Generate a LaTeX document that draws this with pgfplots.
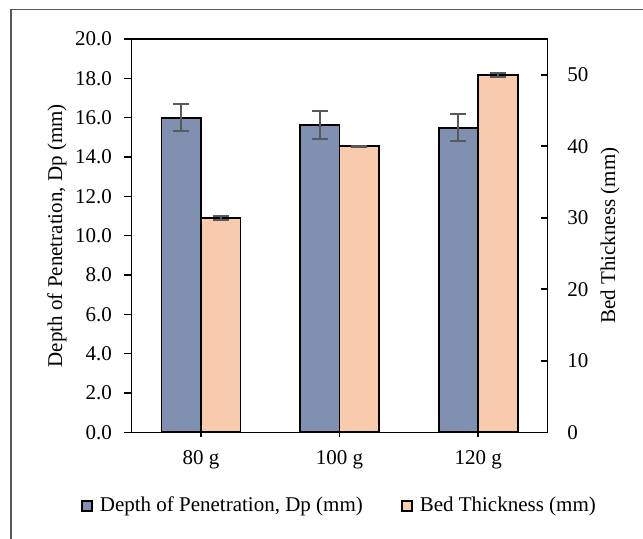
\documentclass[border=0pt]{standalone}
\usepackage{fontspec}
\setmainfont{Liberation Serif}
\usepackage{pgfplots}
\pgfplotsset{compat=1.18}
\definecolor{dpblue}{HTML}{8090B0}
\definecolor{bedorange}{HTML}{F8CBAD}
\definecolor{errgray}{HTML}{595959}
\begin{document}
\fontsize{10.5}{12.5}\selectfont
\begin{tikzpicture}
\useasboundingbox (0,0) rectangle (321.5pt,269pt);
\draw[black!65, line width=0.6pt] (5.5pt,-1pt) -- (5.5pt,264.25pt) -- (323pt,264.25pt);
\pgfplotsset{common/.style={
  scale only axis, width=207.9pt, height=196.65pt,
  at={(65.85pt,52.85pt)}, anchor=south west,
  xmin=-0.5, xmax=2.5, ymin=0,
  ybar, bar width=19.75pt,
  axis line style={line width=0.8pt, black},
  every tick/.style={black, line width=0.8pt},
  tick label style={font=\fontsize{10.5}{12.5}\selectfont},
  label style={font=\fontsize{10.5}{12.5}\selectfont},
  /pgf/number format/assume math mode=true,
  error bars/y dir=both, error bars/y explicit,
  error bars/error bar style={errgray, line width=1pt},
  error bars/error mark options={rotate=90, mark size=4pt, errgray, line width=1pt},
}}
\begin{axis}[common,
  ymax=20, ytick={0,2,...,20},
  xtick={0,1,2}, xticklabels={80 g,100 g,120 g},
  xtick pos=bottom, ytick pos=left,
  tick align=outside,
  ytick style={/pgfplots/major tick length=3.8pt},
  xtick style={/pgfplots/major tick length=2.4pt},
  yticklabel style={/pgf/number format/.cd, fixed, fixed zerofill, precision=1, /tikz/.cd, xshift=-2pt},
  xticklabel style={yshift=-1pt},
  ylabel={Depth of Penetration, Dp (mm)},
  ylabel style={at={(axis description cs:-0.1797,0.5)}, anchor=center, rotate=0},
]
\addplot[draw=black, fill=dpblue, line width=0.9pt, bar shift=-9.875pt]
  coordinates {(0,16.0) +- (0,0.70) (1,15.63) +- (0,0.71) (2,15.49) +- (0,0.70)};
\end{axis}
\begin{axis}[common,
  ymax=55, ytick={0,10,...,50},
  axis y line*=right, axis x line=none,
  tick align=inside,
  ytick style={/pgfplots/major tick length=3.2pt},
  yticklabel style={xshift=6.3pt},
  ylabel={Bed Thickness (mm)},
  ylabel style={at={(axis description cs:1.1503,0.5)}, anchor=center, rotate=0},
  legend style={at={(axis description cs:0.502,-0.1866)}, anchor=center, draw=none,
    fill=none, legend columns=2, font=\fontsize{10.5}{12.5}\selectfont,
    /tikz/every even column/.append style={column sep=17pt}},
  legend image code/.code={\draw[#1, line width=0.9pt] (0pt,-2.5pt) rectangle (5pt,2.5pt);
    \path[draw=none, fill=none] (0pt,0pt) -- (7pt,0pt);},
]
\addlegendimage{draw=black, fill=dpblue}
\addlegendentry{Depth of Penetration, Dp (mm)}
\addplot[draw=black, fill=bedorange, line width=0.9pt, bar shift=9.875pt]
  coordinates {(0,30) +- (0,0.3) (1,40) +- (0,0.1) (2,50) +- (0,0.3)};
\addlegendentry{Bed Thickness (mm)}
\end{axis}
\end{tikzpicture}
\end{document}
